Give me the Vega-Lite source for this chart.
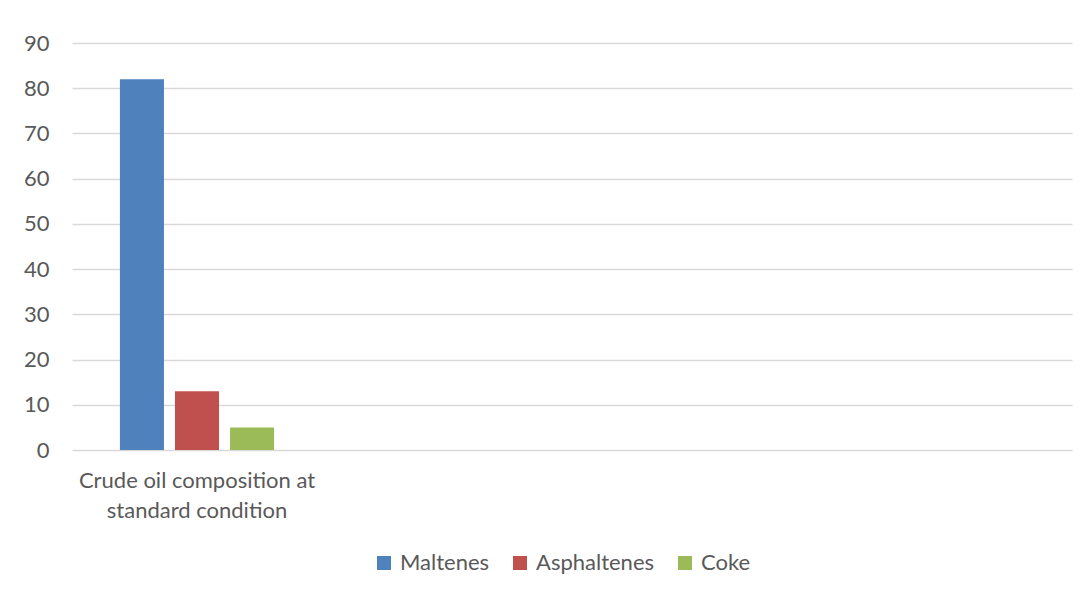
{
  "$schema": "https://vega.github.io/schema/vega-lite/v6.json",
  "autosize": "none",
  "width": 1000,
  "height": 407,
  "padding": {"left": 72, "top": 43, "right": 16, "bottom": 144},
  "background": "white",
  "config": {
    "view": {"stroke": null},
    "font": "Lato",
    "axis": {"labelFont": "Lato", "labelColor": "#595959", "labelFontSize": 22, "gridColor": "#D9D9D9", "gridWidth": 1.5},
    "legend": {"labelFont": "Lato", "labelColor": "#595959", "labelFontSize": 22}
  },
  "data": {
    "values": [
      {"cat": "A", "series": "Maltenes", "value": 82},
      {"cat": "A", "series": "Asphaltenes", "value": 13},
      {"cat": "A", "series": "Coke", "value": 5}
    ]
  },
  "mark": {"type": "bar"},
  "encoding": {
    "x": {
      "field": "cat",
      "type": "nominal",
      "scale": {"domain": ["A", "B", "C", "D"], "paddingInner": 0, "paddingOuter": 0},
      "axis": {
        "title": null,
        "labelAngle": 0,
        "ticks": false,
        "domain": false,
        "labelPadding": 20,
        "labelLineHeight": 30,
        "labelLimit": 400,
        "labelExpr": "datum.value == 'A' ? ['Crude oil composition at', 'standard condition'] : ''"
      }
    },
    "xOffset": {
      "field": "series",
      "type": "nominal",
      "sort": ["Maltenes", "Asphaltenes", "Coke"],
      "scale": {"paddingInner": 0.2, "paddingOuter": 0.87}
    },
    "y": {
      "field": "value",
      "type": "quantitative",
      "scale": {"domain": [0, 90], "nice": false},
      "axis": {
        "title": null,
        "values": [0, 10, 20, 30, 40, 50, 60, 70, 80, 90],
        "ticks": false,
        "domain": false,
        "labelPadding": 23
      }
    },
    "color": {
      "field": "series",
      "type": "nominal",
      "sort": ["Maltenes", "Asphaltenes", "Coke"],
      "scale": {"domain": ["Maltenes", "Asphaltenes", "Coke"], "range": ["#4F81BD", "#C0504D", "#9BBB59"]},
      "legend": {
        "title": null,
        "orient": "none",
        "legendX": 301,
        "legendY": 509,
        "direction": "horizontal",
        "symbolType": "square",
        "symbolSize": 196,
        "symbolStrokeWidth": 0,
        "columnPadding": 19,
        "labelOffset": 5
      }
    }
  }
}
